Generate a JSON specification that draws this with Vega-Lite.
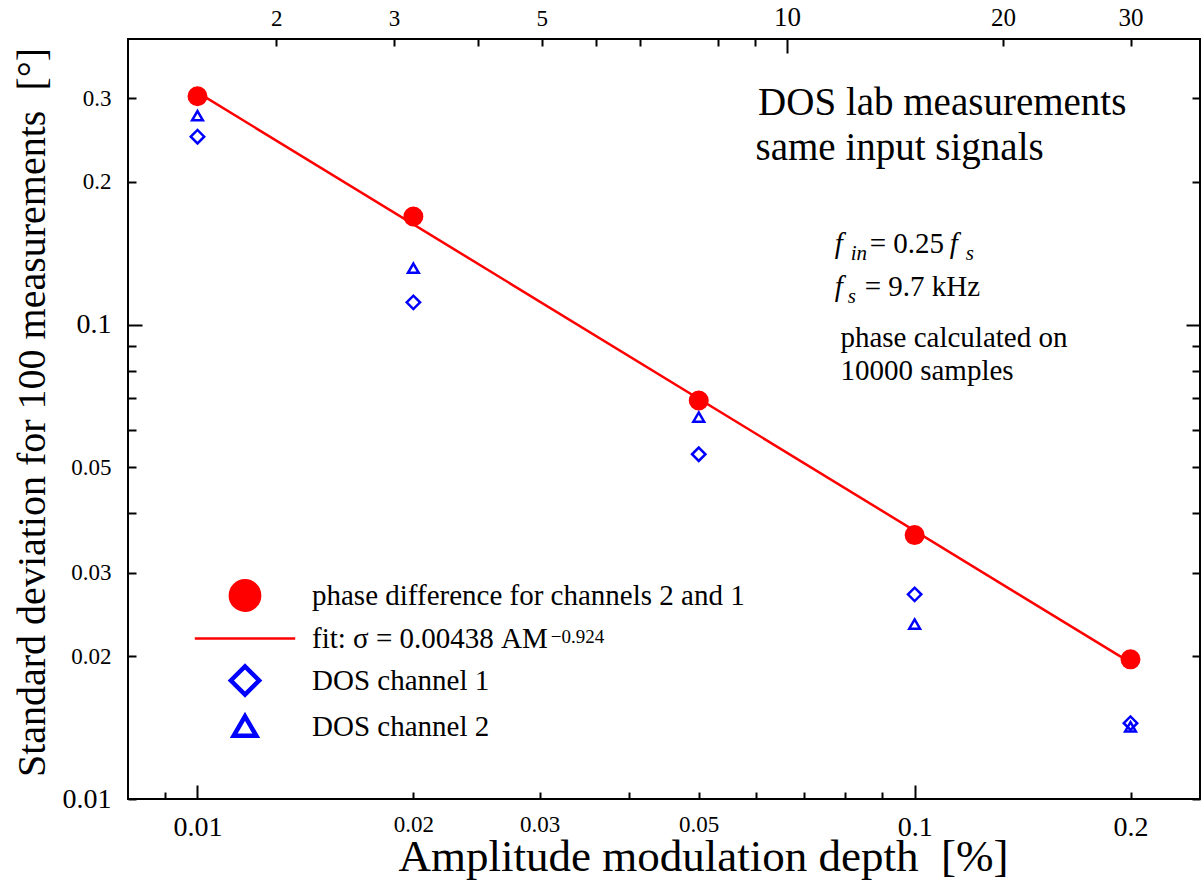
{
  "$schema": "https://vega.github.io/schema/vega-lite/v6.json",
  "width": 1072,
  "height": 760,
  "autosize": {"type": "none"},
  "padding": {"left": 128, "top": 39, "right": 4, "bottom": 86},
  "background": "#ffffff",
  "config": {
    "font": "Liberation Serif",
    "view": {"stroke": "#000000", "strokeWidth": 2},
    "axis": {"grid": false, "domain": false, "tickColor": "#000000", "tickWidth": 2, "labelColor": "#000000", "titleColor": "#000000", "labelFont": "Liberation Serif", "titleFont": "Liberation Serif", "titleFontWeight": "normal", "labelOverlap": false, "labelFlush": false, "labelBound": false},
    "text": {"font": "Liberation Serif", "color": "#000000"}
  },
  "datasets": {
    "pts": [
      {"am": 0.01, "sd": 0.303, "series": "phase difference for channels 2 and 1"},
      {"am": 0.02, "sd": 0.169, "series": "phase difference for channels 2 and 1"},
      {"am": 0.05, "sd": 0.0692, "series": "phase difference for channels 2 and 1"},
      {"am": 0.1, "sd": 0.036, "series": "phase difference for channels 2 and 1"},
      {"am": 0.2, "sd": 0.0197, "series": "phase difference for channels 2 and 1"},
      {"am": 0.01, "sd": 0.249, "series": "DOS channel 1"},
      {"am": 0.02, "sd": 0.1114, "series": "DOS channel 1"},
      {"am": 0.05, "sd": 0.0533, "series": "DOS channel 1"},
      {"am": 0.1, "sd": 0.027, "series": "DOS channel 1"},
      {"am": 0.2, "sd": 0.01445, "series": "DOS channel 1"},
      {"am": 0.01, "sd": 0.2754, "series": "DOS channel 2"},
      {"am": 0.02, "sd": 0.1314, "series": "DOS channel 2"},
      {"am": 0.05, "sd": 0.0638, "series": "DOS channel 2"},
      {"am": 0.1, "sd": 0.02336, "series": "DOS channel 2"},
      {"am": 0.2, "sd": 0.01418, "series": "DOS channel 2"}
    ],
    "fit": [
      {"am": 0.01, "sd": 0.3087, "series": "fit: σ = 0.00438 AM"},
      {"am": 0.2, "sd": 0.01938, "series": "fit: σ = 0.00438 AM"}
    ],
    "notes": [
      {"am": 0.0605, "sd": 0.276, "t": "DOS lab measurements", "k": "big"},
      {"am": 0.06, "sd": 0.222, "t": "same input signals", "k": "big"},
      {"am": 0.0788, "sd": 0.0895, "t": "phase calculated on", "k": "body"},
      {"am": 0.0788, "sd": 0.0763, "t": "10000 samples", "k": "body"},
      {"am": 0.07736, "sd": 0.1413, "t": "f", "k": "f"},
      {"am": 0.07736, "sd": 0.1147, "t": "f", "k": "f"},
      {"am": 0.07736, "sd": 0.1413, "t": "in", "k": "sub1"},
      {"am": 0.07736, "sd": 0.1413, "t": "= 0.25", "k": "eq1"},
      {"am": 0.07736, "sd": 0.1413, "t": "f", "k": "f2"},
      {"am": 0.07736, "sd": 0.1413, "t": "s", "k": "sub2"},
      {"am": 0.07736, "sd": 0.1147, "t": "s", "k": "sub3"},
      {"am": 0.07736, "sd": 0.1147, "t": "= 9.7 kHz", "k": "eq2"},
      {"am": 0.0311, "sd": 0.02131, "t": "−0.924", "k": "sup"}
    ]
  },
  "layer": [
    {
      "data": {"name": "fit"},
      "mark": {"type": "line", "strokeWidth": 2.5, "color": "#ff0000"},
      "encoding": {
        "x": {"field": "am", "type": "quantitative", "scale": {"type": "log", "domain": [0.008, 0.25], "nice": false},
          "axis": {
            "orient": "bottom",
            "values": [0.009, 0.01, 0.02, 0.03, 0.04, 0.05, 0.06, 0.07, 0.08, 0.09, 0.1, 0.2],
            "labelExpr": "indexof([0.01,0.02,0.03,0.05,0.1,0.2], datum.value) >= 0 ? '' + datum.value : ''",
            "labelFontSize": {"condition": {"test": "datum.value == 0.01 || datum.value == 0.1 || datum.value == 0.2", "value": 28}, "value": 23},
            "tickSize": {"condition": {"test": "datum.value == 0.01 || datum.value == 0.1", "value": -14}, "value": -7},
            "labelPadding": {"condition": {"test": "datum.value == 0.01 || datum.value == 0.1", "value": 28}, "value": 21},
            "labelBaseline": "top",
            "title": "Amplitude modulation depth \u00a0[%]",
            "titleFontSize": 45, "titleX": 575, "titleY": 71, "titleBaseline": "alphabetic", "titleAlign": "center", "titleAngle": 0
          }
        },
        "y": {"field": "sd", "type": "quantitative", "scale": {"type": "log", "domain": [0.01, 0.4], "nice": false},
          "axis": {
            "orient": "left",
            "values": [0.01, 0.02, 0.03, 0.04, 0.05, 0.06, 0.07, 0.08, 0.09, 0.1, 0.2, 0.3],
            "labelExpr": "indexof([0.01,0.02,0.03,0.05,0.1,0.2,0.3], datum.value) >= 0 ? '' + datum.value : ''",
            "labelFontSize": {"condition": {"test": "datum.value == 0.01 || datum.value == 0.1", "value": 28}, "value": 23},
            "tickSize": {"condition": {"test": "datum.value == 0.1", "value": -14}, "value": -8},
            "labelPadding": {"condition": {"test": "datum.value == 0.1", "value": 31}, "value": 25},
            "title": "Standard deviation for 100 measurements \u00a0[°]",
            "titleFontSize": 40, "titleX": -84, "titleY": 373, "titleBaseline": "alphabetic", "titleAlign": "center", "titleAngle": 270
          }
        }
      }
    },
    {
      "data": {"name": "pts"},
      "transform": [{"filter": {"field": "series", "equal": "phase difference for channels 2 and 1"}}],
      "mark": {"type": "point", "size": 324, "opacity": 1},
      "encoding": {
        "x": {"field": "am", "type": "quantitative",
          "axis": {
            "orient": "top",
            "values": [0.01288, 0.0188, 0.0246, 0.0302, 0.03597, 0.0414, 0.0532, 0.05995, 0.0664, 0.1328, 0.2],
            "labelExpr": "datum.value == 0.01288 ? '2' : datum.value == 0.0188 ? '3' : datum.value == 0.0302 ? '5' : datum.value == 0.0664 ? '10' : datum.value == 0.1328 ? '20' : datum.value == 0.2 ? '30' : ''",
            "labelFontSize": {"condition": [{"test": "datum.value == 0.0664", "value": 27}, {"test": "datum.value >= 0.1", "value": 25}], "value": 23},
            "tickSize": {"condition": {"test": "datum.value == 0.0664", "value": -14}, "value": -7},
            "labelPadding": {"condition": {"test": "datum.value == 0.0664", "value": 28}, "value": 21},
            "labelBaseline": "alphabetic",
            "title": null
          }
        },
        "y": {"field": "sd", "type": "quantitative",
          "axis": {
            "orient": "right",
            "values": [0.01, 0.02, 0.03, 0.04, 0.05, 0.06, 0.07, 0.08, 0.09, 0.1, 0.2, 0.3],
            "labels": false,
            "tickSize": {"condition": {"test": "datum.value == 0.1", "value": -14}, "value": -8},
            "title": null
          }
        },
        "fill": {"field": "series", "type": "nominal",
          "scale": {"domain": ["phase difference for channels 2 and 1", "fit: σ = 0.00438 AM", "DOS channel 1", "DOS channel 2"], "range": ["#ff0000", "#ff0000", "transparent", "transparent"]}
        },
        "stroke": {"field": "series", "type": "nominal",
          "scale": {"domain": ["phase difference for channels 2 and 1", "fit: σ = 0.00438 AM", "DOS channel 1", "DOS channel 2"], "range": ["#ff0000", "transparent", "#0000ff", "#0000ff"]}
        },
        "shape": {"field": "series", "type": "nominal",
          "scale": {"domain": ["phase difference for channels 2 and 1", "fit: σ = 0.00438 AM", "DOS channel 1", "DOS channel 2"], "range": ["circle", "M-3.55,-0.09H3.55V0.09H-3.55Z", "diamond", "M0,-0.72L0.8,0.66L-0.8,0.66Z"]},
          "legend": {
            "title": null, "orient": "none", "legendX": 100.5, "legendY": 540,
            "padding": 0, "symbolOffset": 0, "labelOffset": 50.5, "symbolSize": 800, "symbolStrokeWidth": 4.5,
            "labelFont": "Liberation Serif", "labelFontSize": 29, "labelColor": "#000000", "labelLimit": 1000, "rowPadding": 3,
            "encode": {"symbols": {"update": {
              "opacity": {"value": 1}
            }}}
          }
        }
      }
    },
    {
      "data": {"name": "pts"},
      "transform": [{"filter": {"field": "series", "equal": "DOS channel 1"}}],
      "mark": {"type": "point", "size": 180, "opacity": 1},
      "encoding": {
        "x": {"field": "am", "type": "quantitative", "axis": null},
        "y": {"field": "sd", "type": "quantitative", "axis": null},
        "fill": {"field": "series", "type": "nominal"},
        "stroke": {"field": "series", "type": "nominal"},
        "shape": {"field": "series", "type": "nominal"},
        "strokeWidth": {"value": 2.5}
      }
    },
    {
      "data": {"name": "pts"},
      "transform": [{"filter": {"field": "series", "equal": "DOS channel 2"}}],
      "mark": {"type": "point", "size": 180, "opacity": 1},
      "encoding": {
        "x": {"field": "am", "type": "quantitative", "axis": null},
        "y": {"field": "sd", "type": "quantitative", "axis": null},
        "fill": {"field": "series", "type": "nominal"},
        "stroke": {"field": "series", "type": "nominal"},
        "shape": {"field": "series", "type": "nominal"},
        "strokeWidth": {"value": 2.5}
      }
    },
    {
      "data": {"name": "notes"},
      "transform": [{"filter": {"field": "k", "equal": "big"}}],
      "mark": {"type": "text", "fontSize": 39, "align": "left", "baseline": "alphabetic"},
      "encoding": {
        "x": {"field": "am", "type": "quantitative", "axis": null},
        "y": {"field": "sd", "type": "quantitative", "axis": null},
        "text": {"field": "t"}
      }
    },
    {
      "data": {"name": "notes"},
      "transform": [{"filter": {"field": "k", "equal": "body"}}],
      "mark": {"type": "text", "fontSize": 29, "align": "left", "baseline": "alphabetic"},
      "encoding": {
        "x": {"field": "am", "type": "quantitative", "axis": null},
        "y": {"field": "sd", "type": "quantitative", "axis": null},
        "text": {"field": "t"}
      }
    },
    {
      "data": {"name": "notes"},
      "transform": [{"filter": {"field": "k", "equal": "sup"}}],
      "mark": {"type": "text", "fontSize": 19, "align": "left", "baseline": "alphabetic"},
      "encoding": {
        "x": {"field": "am", "type": "quantitative", "axis": null},
        "y": {"field": "sd", "type": "quantitative", "axis": null},
        "text": {"field": "t"}
      }
    },
    {
      "data": {"name": "notes"},
      "transform": [{"filter": {"field": "k", "equal": "f"}}],
      "mark": {"type": "text", "fontSize": 29, "fontStyle": "italic", "align": "left", "baseline": "alphabetic"},
      "encoding": {
        "x": {"field": "am", "type": "quantitative", "axis": null},
        "y": {"field": "sd", "type": "quantitative", "axis": null},
        "text": {"field": "t"}
      }
    },
    {
      "data": {"name": "notes"},
      "transform": [{"filter": {"field": "k", "equal": "sub1"}}],
      "mark": {"type": "text", "fontSize": 21, "fontStyle": "italic", "align": "left", "baseline": "alphabetic", "dx": 16, "dy": 7},
      "encoding": {
        "x": {"field": "am", "type": "quantitative", "axis": null},
        "y": {"field": "sd", "type": "quantitative", "axis": null},
        "text": {"field": "t"}
      }
    },
    {
      "data": {"name": "notes"},
      "transform": [{"filter": {"field": "k", "equal": "eq1"}}],
      "mark": {"type": "text", "fontSize": 29, "align": "left", "baseline": "alphabetic", "dx": 35},
      "encoding": {
        "x": {"field": "am", "type": "quantitative", "axis": null},
        "y": {"field": "sd", "type": "quantitative", "axis": null},
        "text": {"field": "t"}
      }
    },
    {
      "data": {"name": "notes"},
      "transform": [{"filter": {"field": "k", "equal": "f2"}}],
      "mark": {"type": "text", "fontSize": 29, "fontStyle": "italic", "align": "left", "baseline": "alphabetic", "dx": 115},
      "encoding": {
        "x": {"field": "am", "type": "quantitative", "axis": null},
        "y": {"field": "sd", "type": "quantitative", "axis": null},
        "text": {"field": "t"}
      }
    },
    {
      "data": {"name": "notes"},
      "transform": [{"filter": {"field": "k", "equal": "sub2"}}],
      "mark": {"type": "text", "fontSize": 21, "fontStyle": "italic", "align": "left", "baseline": "alphabetic", "dx": 131, "dy": 7},
      "encoding": {
        "x": {"field": "am", "type": "quantitative", "axis": null},
        "y": {"field": "sd", "type": "quantitative", "axis": null},
        "text": {"field": "t"}
      }
    },
    {
      "data": {"name": "notes"},
      "transform": [{"filter": {"field": "k", "equal": "sub3"}}],
      "mark": {"type": "text", "fontSize": 21, "fontStyle": "italic", "align": "left", "baseline": "alphabetic", "dx": 13, "dy": 7},
      "encoding": {
        "x": {"field": "am", "type": "quantitative", "axis": null},
        "y": {"field": "sd", "type": "quantitative", "axis": null},
        "text": {"field": "t"}
      }
    },
    {
      "data": {"name": "notes"},
      "transform": [{"filter": {"field": "k", "equal": "eq2"}}],
      "mark": {"type": "text", "fontSize": 29, "align": "left", "baseline": "alphabetic", "dx": 30},
      "encoding": {
        "x": {"field": "am", "type": "quantitative", "axis": null},
        "y": {"field": "sd", "type": "quantitative", "axis": null},
        "text": {"field": "t"}
      }
    }
  ],
  "resolve": {"axis": {"x": "independent", "y": "independent"}}
}
